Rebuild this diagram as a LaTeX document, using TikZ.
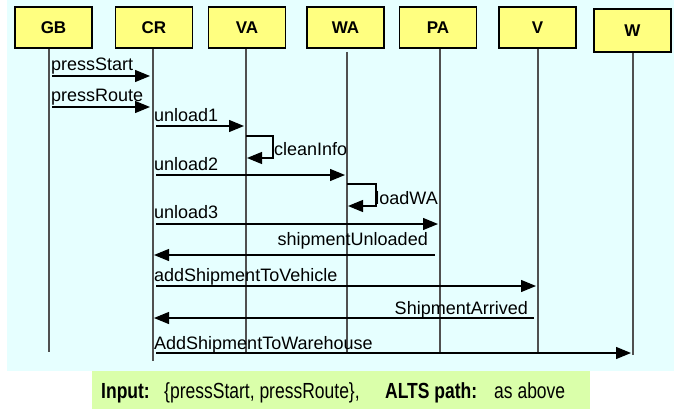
\documentclass[tikz,border=0pt]{standalone}
\usepackage{fontspec}
\usepackage{graphicx}
\setmainfont{Liberation Sans}
\usetikzlibrary{arrows.meta}
\definecolor{bgcyan}{HTML}{E6FFFF}
\definecolor{boxyellow}{HTML}{FFFF80}
\definecolor{notegreen}{HTML}{DAFFAA}
\definecolor{lifegray}{HTML}{505050}
\tikzset{
  actor/.style={draw=black, fill=boxyellow, line width=1.2pt, minimum width=77pt,
    minimum height=41pt, inner sep=0pt, font=\fontsize{17}{17}\selectfont\bfseries},
  lifeline/.style={draw=lifegray, line width=1.1pt},
  msg/.style={draw=black, line width=1.2pt, -{Triangle[length=15pt,width=12pt]}},
  lbl/.style={inner sep=0pt, font=\fontsize{18}{18}\selectfont},
  notetxt/.style={inner sep=0pt, anchor=base west, font=\fontsize{17.5}{17.5}\selectfont}
}
\begin{document}
\begin{tikzpicture}[x=1pt,y=-1pt]
\useasboundingbox (0,0) rectangle (674,409);
% backgrounds
\fill[bgcyan] (7,0) rectangle (674,371);
\fill[notegreen] (92,371) rectangle (590,409);
% lifeline coordinates
\coordinate (GBl) at (49,48);
\coordinate (CRl) at (153,48);
\coordinate (VAl) at (246,48);
\coordinate (WAl) at (347,52);
\coordinate (PAl) at (440,48);
\coordinate (Vl)  at (538,48);
\coordinate (Wl)  at (633,52);
\draw[lifeline] (GBl) -- (GBl |- 0,352);
\draw[lifeline] (CRl) -- (CRl |- 0,361);
\draw[lifeline] (VAl) -- (VAl |- 0,352);
\draw[lifeline] (WAl) -- (WAl |- 0,352);
\draw[lifeline] (PAl) -- (PAl |- 0,352);
\draw[lifeline] (Vl)  -- (Vl |- 0,352);
\draw[lifeline] (Wl)  -- (Wl |- 0,355);
% actor boxes
\node[actor] (GB) at (53.5,27.5) {GB};
\node[actor] (CR) at (154,27.5) {CR};
\node[actor] (VA) at (247,27.5) {VA};
\node[actor] (WA) at (345.5,27.5) {WA};
\node[actor] (PA) at (438,27.5) {PA};
\node[actor] (V)  at (537.5,27.5) {V};
\node[actor, minimum height=43pt] (W) at (632.5,30.5) {W};
% messages
\draw[msg, shorten <=3pt, shorten >=3pt] (GBl |- 0,76) -- (CRl |- 0,76);
\node[lbl, anchor=base west] (l1) at (51,71) {pressStart};
\draw[msg, shorten <=3pt, shorten >=3pt] (GBl |- 0,107) -- (CRl |- 0,107);
\node[lbl, anchor=base west] (l2) at (51,102) {pressRoute};
\draw[msg, shorten <=3pt, shorten >=2pt] (CRl |- 0,126) -- (VAl |- 0,126);
\node[lbl, anchor=base west] (l3) at (154,121.5) {unload1};
\draw[msg, shorten >=1pt] (VAl |- 0,136) -| (273,158) -- (VAl |- 0,158);
\node[lbl, anchor=base west] (l4) at (274,155) {cleanInfo};
\draw[msg, shorten <=3pt, shorten >=2pt] (CRl |- 0,175) -- (WAl |- 0,175);
\node[lbl, anchor=base west] (l5) at (154,170) {unload2};
\draw[msg, shorten >=1pt] (WAl |- 0,184) -| (376,206) -- (WAl |- 0,206);
\node[lbl, anchor=base west] (l6) at (375.2,204) {loadWA};
\draw[msg, shorten <=3pt, shorten >=2pt] (CRl |- 0,224) -- (PAl |- 0,224);
\node[lbl, anchor=base west] (l7) at (154,218.5) {unload3};
\draw[msg, shorten <=5pt, shorten >=1pt] (PAl |- 0,255) -- (CRl |- 0,255);
\node[lbl, anchor=base east] (l8) at (428,245.5) {shipmentUnloaded};
\draw[msg, shorten <=3pt, shorten >=2pt] (CRl |- 0,286) -- (Vl |- 0,286);
\node[lbl, anchor=base west] (l9) at (154,281.5) {addShipmentToVehicle};
\draw[msg, shorten <=4pt, shorten >=1pt] (Vl |- 0,318) -- (CRl |- 0,318);
\node[lbl, anchor=base east] (l10) at (528,314) {ShipmentArrived};
\draw[msg, shorten <=3pt, shorten >=2pt] (CRl |- 0,353) -- (Wl |- 0,353);
\node[lbl, anchor=base west] (l11) at (154,349) {AddShipmentToWarehouse};
% note text
\node[notetxt] (n1) at (101,398) {\scalebox{1}[1.25]{\bfseries Input:}};
\node[notetxt] (n2) at (164,398) {\scalebox{1}[1.25]{\{pressStart, pressRoute\},}};
\node[notetxt] (n3) at (385,398) {\scalebox{1}[1.25]{\bfseries ALTS path:}};
\node[notetxt] (n4) at (494,398) {\scalebox{1}[1.25]{as above}};
\end{tikzpicture}
\end{document}
